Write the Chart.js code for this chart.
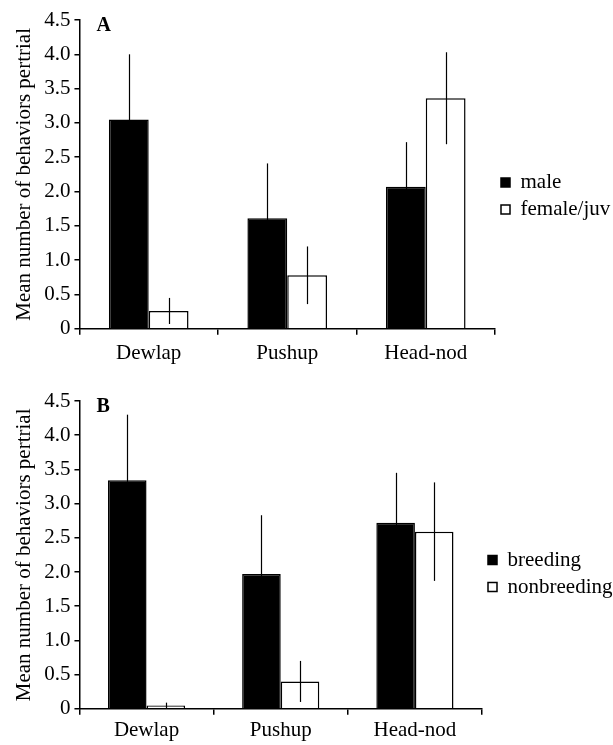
<!DOCTYPE html>
<html>
<head>
<meta charset="utf-8">
<script src="https://cdn.jsdelivr.net/npm/chart.js@4"></script>
<style>
  html, body { margin: 0; padding: 0; background: #fff; overflow: hidden; }
  .panel { position: relative; width: 613px; }
  #wrapA { height: 372px; }
  #wrapB { height: 374px; }
</style>
</head>
<body>
<div class="panel" id="wrapA"><canvas id="chartA"></canvas></div>
<div class="panel" id="wrapB"><canvas id="chartB"></canvas></div>
<script>
// datos
const categories = ['Dewlap', 'Pushup', 'Head-nod'];

const maleMeans = [3.05, 1.61, 2.07];
const maleErr = [0.95, 0.80, 0.65];
const femaleMeans = [0.26, 0.78, 3.36];
const femaleErr = [0.19, 0.42, 0.67];

const breedingMeans = [3.34, 1.97, 2.72];
const breedingErr = [0.96, 0.86, 0.73];
const nonbreedingMeans = [0.05, 0.40, 2.59];
const nonbreedingErr = [0.04, 0.30, 0.72];

const yTicks = [0, 0.5, 1.0, 1.5, 2.0, 2.5, 3.0, 3.5, 4.0, 4.5];
const yTitle = 'Mean number of behaviors pertrial';

const serif = "'Liberation Serif', 'Times New Roman', serif";

// barras de error (lineas simples sin remate)
const errorBars = {
    id: 'errorBars',
    afterDatasetsDraw(chart) {
        const ctx = chart.ctx;
        const yScale = chart.scales.y;
        ctx.save();
        ctx.strokeStyle = '#000';
        ctx.lineWidth = 1.2;
        chart.data.datasets.forEach((ds, i) => {
            const meta = chart.getDatasetMeta(i);
            meta.data.forEach((bar, j) => {
                const v = ds.data[j];
                const e = ds.errors[j];
                const top = yScale.getPixelForValue(v + e);
                const bot = yScale.getPixelForValue(Math.max(0, v - e));
                const x = Math.round(bar.x) + 0.5;
                ctx.beginPath();
                ctx.moveTo(x, top);
                ctx.lineTo(x, bot);
                ctx.stroke();
            });
        });
        ctx.restore();
    }
};

// letra del panel (A / B)
const panelLetter = {
    id: 'panelLetter',
    afterDraw(chart, args, opts) {
        const ctx = chart.ctx;
        const area = chart.chartArea;
        ctx.save();
        ctx.fillStyle = '#000';
        ctx.font = 'bold 20px ' + serif;
        ctx.textBaseline = 'alphabetic';
        ctx.fillText(opts.text, area.left + 17, area.top + 11);
        ctx.restore();
    }
};

function makeChart(canvasId, letter, labels, means, errs, cfg) {
    const ctx = document.getElementById(canvasId).getContext('2d');
    return new Chart(ctx, {
        type: 'bar',
        data: {
            labels: categories,
            datasets: [
                {
                    label: labels[0],
                    data: means[0],
                    errors: errs[0],
                    backgroundColor: '#000',
                    borderColor: '#000',
                    borderWidth: 1.5
                },
                {
                    label: labels[1],
                    data: means[1],
                    errors: errs[1],
                    backgroundColor: '#fff',
                    borderColor: '#000',
                    borderWidth: 1.5
                }
            ]
        },
        options: {
            responsive: true,
            maintainAspectRatio: false,
            animation: false,
            categoryPercentage: 0.575,
            barPercentage: 1.0,
            layout: { padding: { top: cfg.padTop, left: 12, right: 0, bottom: 0 } },
            scales: {
                x: {
                    grid: {
                        display: true,
                        drawOnChartArea: false,
                        offset: true,
                        tickLength: 6,
                        color: '#000',
                        lineWidth: 1.5
                    },
                    border: { display: true, color: '#000', width: 1.5 },
                    ticks: {
                        color: '#000',
                        padding: cfg.xPad,
                        font: { family: serif, size: 21 }
                    }
                },
                y: {
                    min: 0,
                    max: 4.5,
                    afterBuildTicks: (axis) => {
                        axis.ticks = yTicks.map(v => ({ value: v }));
                    },
                    grid: {
                        display: true,
                        drawOnChartArea: false,
                        tickLength: 5,
                        color: '#000',
                        lineWidth: 1.5
                    },
                    border: { display: true, color: '#000', width: 1.5 },
                    ticks: {
                        color: '#000',
                        padding: 4,
                        font: { family: serif, size: 21 },
                        callback: (v) => v === 0 ? '0' : Number(v).toFixed(1)
                    },
                    title: {
                        display: true,
                        text: yTitle,
                        color: '#000',
                        padding: { top: 0, bottom: 3 },
                        font: { family: serif, size: 21 }
                    }
                }
            },
            plugins: {
                legend: {
                    position: 'right',
                    maxWidth: cfg.legendWidth,
                    labels: {
                        color: '#000',
                        boxWidth: 9,
                        boxHeight: 9,
                        padding: 6,
                        font: { family: serif, size: 21 }
                    }
                },
                tooltip: { enabled: false },
                panelLetter: { text: letter }
            }
        },
        plugins: [errorBars, panelLetter]
    });
}

makeChart('chartA', 'A', ['male', 'female/juv'],
    [maleMeans, femaleMeans], [maleErr, femaleErr],
    { padTop: 20, xPad: 6, legendWidth: 118 });
makeChart('chartB', 'B', ['breeding', 'nonbreeding'],
    [breedingMeans, nonbreedingMeans], [breedingErr, nonbreedingErr],
    { padTop: 29, xPad: 3, legendWidth: 131 });
</script>
</body>
</html>
